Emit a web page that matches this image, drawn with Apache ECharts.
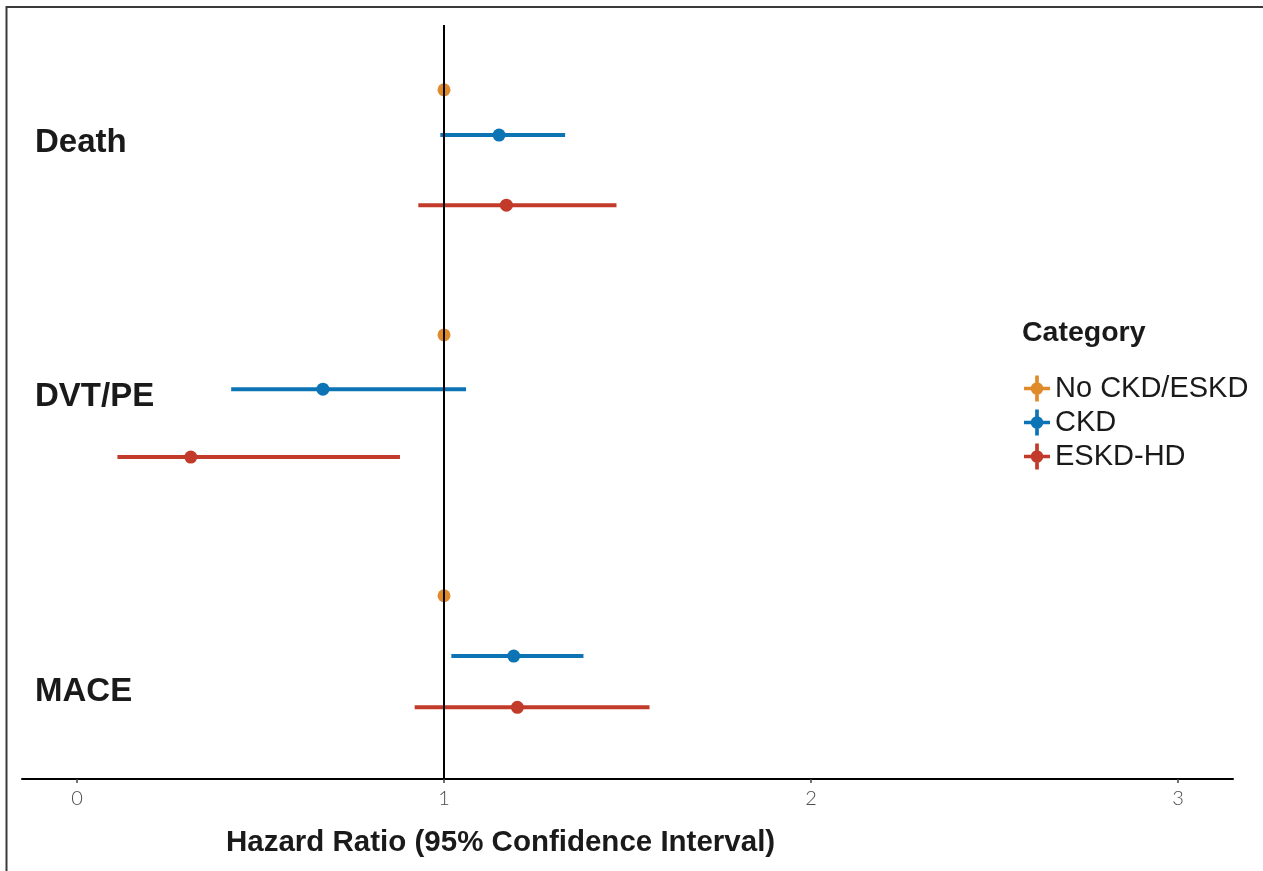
<!DOCTYPE html>
<html>
<head>
<meta charset="utf-8">
<script src="https://cdn.jsdelivr.net/npm/echarts@6/dist/echarts.min.js"></script>
<style>html,body{margin:0;padding:0;background:#fff;}#chart{width:1263px;height:871px;}</style>
</head>
<body>
<div id="chart"></div>
<script>
// ---- data ----
const outcomes = ['Death', 'DVT/PE', 'MACE'];
const categories = ['No CKD/ESKD', 'CKD', 'ESKD-HD'];
const xTicks = [0, 1, 2, 3];
// vertical row position of each outcome label and each category's row (0 = top, 100 = bottom)
const outcomeRow = [15.6, 49.3, 88.5];
const noCkdRow = [8.6, 41.1, 75.7];
const ckdRow = [14.6, 48.3, 83.7];
const eskdRow = [23.9, 57.3, 90.5];
// hazard ratios and 95% CI
const noCkdHR = [1, 1, 1];
const noCkdLo = [1, 1, 1];
const noCkdHi = [1, 1, 1];
const ckdHR = [1.15, 0.67, 1.19];
const ckdLo = [0.99, 0.42, 1.02];
const ckdHi = [1.33, 1.06, 1.38];
const eskdHR = [1.17, 0.31, 1.20];
const eskdLo = [0.93, 0.11, 0.92];
const eskdHi = [1.47, 0.88, 1.56];
const colors = ['#E08B2B', '#0C73B4', '#C23B2A'];

const chart = echarts.init(document.getElementById('chart'));
const FONT = '"Liberation Sans", Arial, sans-serif';
const LIGHT = 'Lato';

function build(hr, lo, hi, row) {
  return hr.map((v, i) => [lo[i], hi[i], v, row[i]]);
}
const seriesData = [
  build(noCkdHR, noCkdLo, noCkdHi, noCkdRow),
  build(ckdHR, ckdLo, ckdHi, ckdRow),
  build(eskdHR, eskdLo, eskdHi, eskdRow)
];

function renderItem(params, api) {
  const lo = api.coord([api.value(0), api.value(3)]);
  const hi = api.coord([api.value(1), api.value(3)]);
  const pt = api.coord([api.value(2), api.value(3)]);
  const color = api.visual('color');
  return {
    type: 'group',
    children: [
      { type: 'line', shape: { x1: lo[0], y1: lo[1], x2: hi[0], y2: hi[1] },
        style: { stroke: color, lineWidth: 4, lineCap: 'butt' } },
      { type: 'circle', shape: { cx: pt[0], cy: pt[1], r: 6.5 }, style: { fill: color } }
    ]
  };
}

const icon = 'path://M0,10.3 L24,10.3 L24,13.7 L0,13.7 Z M10.3,0 L13.7,0 L13.7,24 L10.3,24 Z M12,6.2 A5.8,5.8 0 1 1 12,17.8 A5.8,5.8 0 1 1 12,6.2 Z';

const series = categories.map((name, k) => ({
  name: name,
  type: 'custom',
  renderItem: renderItem,
  itemStyle: { color: colors[k] },
  encode: { x: [0, 1, 2], y: 3 },
  data: seriesData[k],
  z: 3,
  markLine: k === 0 ? {
    silent: true, symbol: 'none', animation: false,
    label: { show: false },
    lineStyle: { color: '#000', width: 2, type: 'solid' },
    data: [{ xAxis: 1 }]
  } : undefined
}));

chart.setOption({
  animation: false,
  backgroundColor: '#fff',
  graphic: [{
    type: 'rect', silent: true, z: -1,
    shape: { x: 6.5, y: 7, width: 1300, height: 900 },
    style: { fill: 'none', stroke: '#3a3a3a', lineWidth: 2 }
  }],
  title: [
    { text: 'Hazard Ratio (95% Confidence Interval)', left: 226, top: 828, padding: 0,
      textStyle: { fontFamily: FONT, fontSize: 29.5, fontWeight: 'bold', color: '#1a1a1a' } },
    { text: 'Category', left: 1022, top: 319, padding: 0,
      textStyle: { fontFamily: FONT, fontSize: 28.5, fontWeight: 'bold', color: '#1a1a1a' } }
  ],
  legend: {
    orient: 'vertical', left: 1019, top: 369,
    itemWidth: 26, itemHeight: 26, itemGap: 5,
    data: categories.map(n => ({ name: n, icon: icon })),
    textStyle: { fontFamily: FONT, fontSize: 29, lineHeight: 28, color: '#1a1a1a', padding: [0, 0, 0, 0] },
    selectedMode: false
  },
  grid: { left: 22, right: 30, top: 25, bottom: 92, containLabel: false },
  xAxis: {
    type: 'value', min: -0.15, max: 3.15, position: 'bottom',
    axisLine: { show: true, onZero: false, lineStyle: { color: '#000', width: 2 } },
    axisTick: { show: true, length: 4, customValues: xTicks, lineStyle: { color: '#444', width: 1.5 } },
    axisLabel: { customValues: xTicks, margin: 10, fontFamily: LIGHT, fontWeight: 300, fontSize: 20, color: '#4d4d4d' },
    splitLine: { show: false }
  },
  yAxis: {
    type: 'value', min: 0, max: 100, inverse: true,
    axisLine: { show: false },
    axisTick: { show: false },
    splitLine: { show: false },
    axisLabel: {
      inside: true, margin: 13, customValues: outcomeRow,
      formatter: function (v) {
        let best = 0;
        outcomeRow.forEach((r, i) => { if (Math.abs(r - v) < Math.abs(outcomeRow[best] - v)) best = i; });
        return outcomes[best];
      },
      fontFamily: FONT, fontSize: 33, fontWeight: 'bold', color: '#1a1a1a', align: 'left'
    }
  },
  series: series
});
</script>
</body>
</html>
